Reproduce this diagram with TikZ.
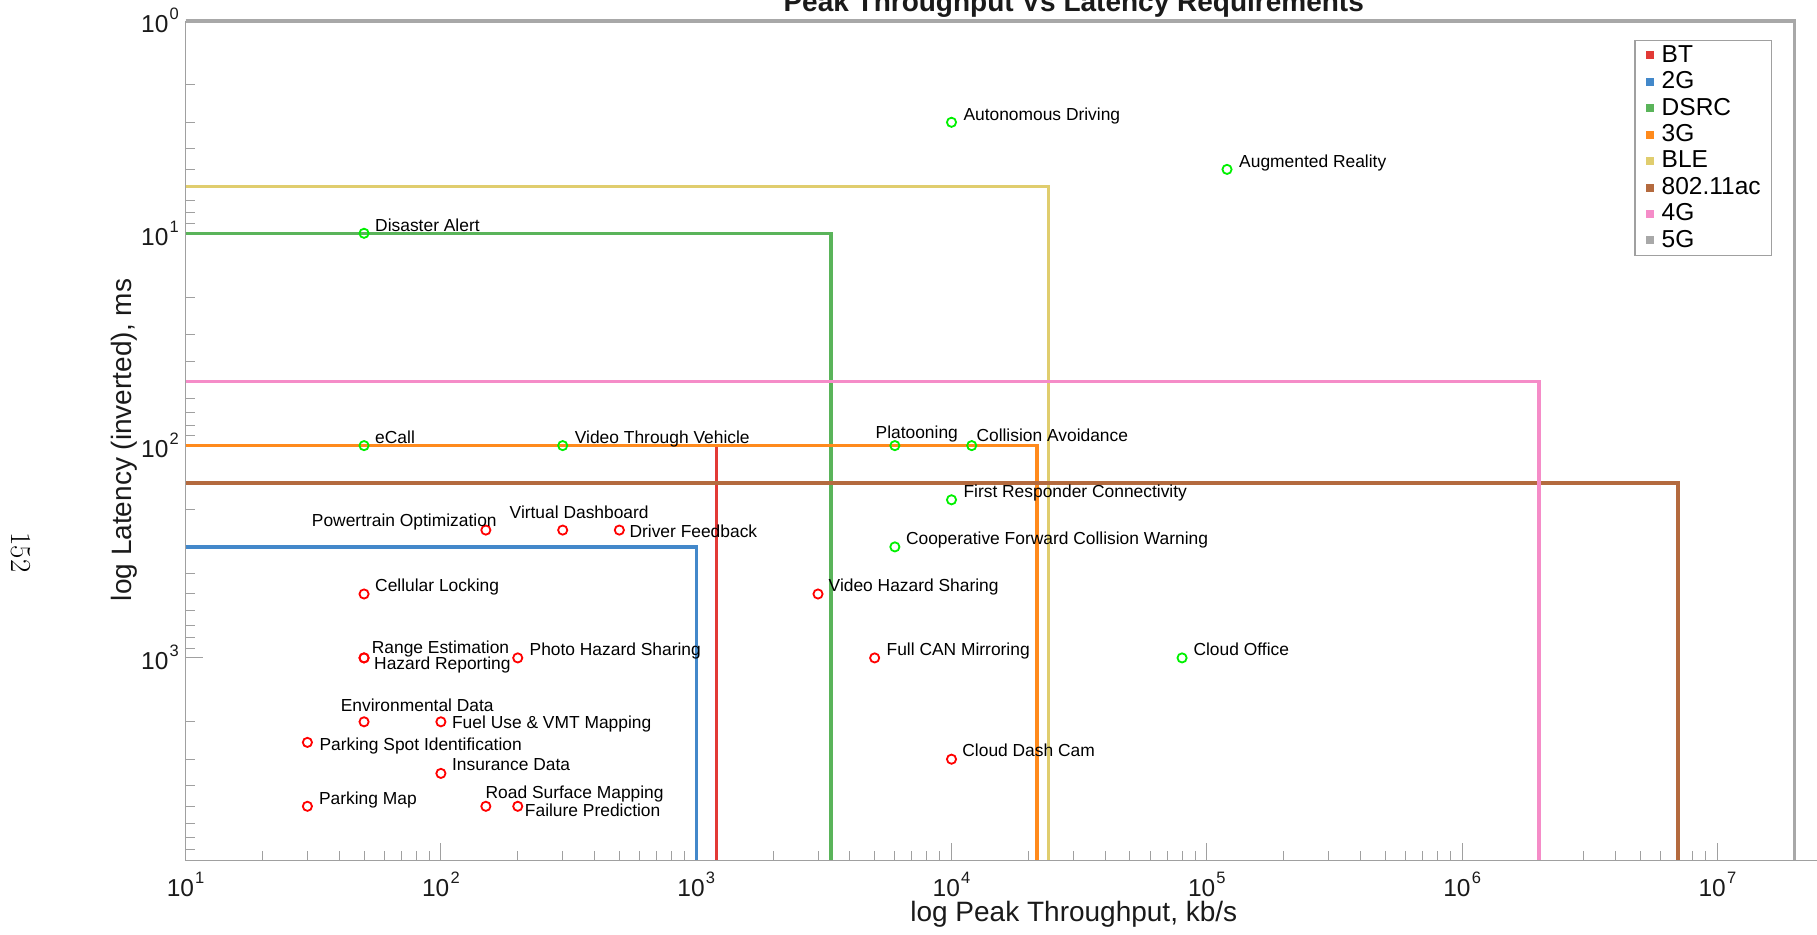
\documentclass[tikz,border=0pt]{standalone}
\usepackage{fontspec}
\newfontfamily\sans{Liberation Sans}

\definecolor{axgray}{HTML}{A0A0A0}
\definecolor{txt}{HTML}{1A1A1A}
\definecolor{cBT}{HTML}{E23A36}
\definecolor{cTwoG}{HTML}{4388CA}
\definecolor{cDSRC}{HTML}{5AB45A}
\definecolor{cThreeG}{HTML}{FF8A1C}
\definecolor{cBLE}{HTML}{E0CD6E}
\definecolor{cAC}{HTML}{B46A3E}
\definecolor{cFourG}{HTML}{F58CC8}
\definecolor{cFiveG}{HTML}{A8A8A8}
\definecolor{ptred}{HTML}{FF0000}
\definecolor{ptgreen}{HTML}{00F000}

% power-of-ten tick label
\newcommand\tenpow[1]{10\hspace{1.2pt}\raisebox{13pt}{\fontsize{16.5}{16.5}\selectfont#1}}

\tikzset{
  axisline/.style={draw=axgray, line width=1.3pt},
  tickmark/.style={draw=axgray, line width=1pt},
  band/.style={line width=3.3pt, line join=miter},
  redpt/.style={circle, draw=ptred, line width=1.8pt, minimum size=9.2pt, inner sep=0pt},
  greenpt/.style={circle, draw=ptgreen, line width=1.8pt, minimum size=9.2pt, inner sep=0pt},
  lbl/.style={font=\sans\fontsize{17.4}{17.4}\selectfont, text=black, inner sep=0pt,
              text height=12.4pt, text depth=0pt, anchor=west},
  ticklbl/.style={font=\sans\fontsize{24.5}{24.5}\selectfont, text=txt, inner sep=0pt},
  axlbl/.style={font=\sans\fontsize{28}{28}\selectfont, text=txt, inner sep=0pt},
  legtxt/.style={font=\sans\fontsize{24.5}{24.5}\selectfont, text=black, inner sep=0pt, anchor=base west},
  declare function={
    px(\m,\e)=185.6+(ln(\m)*0.4342945+\e-1)*255.3;
    py(\m,\e)=21+(ln(\m)*0.4342945+\e)*212.3;
  }
}

\begin{document}
\begin{tikzpicture}[x=1pt, y=-1pt]
\useasboundingbox (0,0) rectangle (1817,934);

% axes corner and limits
\coordinate (O) at ({px(1,1)},{py(9,3)});
\coordinate (TL) at ({px(1,1)},{py(1,0)});

% title (partly above the page edge)
\node[axlbl, font=\sans\bfseries\fontsize{28}{28}\selectfont, anchor=base] (title) at (1073.7,11.5)
  {Peak Throughput Vs Latency Requirements};

% minor and major ticks
\foreach \e in {0,...,3}{
  \foreach \m in {2,...,9}{
    \draw[tickmark] ({px(1,1)},{py(\m,\e)}) -- ++(9,0);
  }
  \draw[tickmark] ({px(1,1)},{py(1,\e)}) -- ++(17.5,0);
}
\foreach \e in {1,...,6}{
  \foreach \m in {2,...,9}{
    \draw[tickmark] ({px(\m,\e)},{py(9,3)}) -- ++(0,-9);
  }
}
\foreach \e in {2,...,7}{
  \draw[tickmark] ({px(1,\e)},{py(9,3)}) -- ++(0,-17.5);
}

% axis lines
\draw[axisline] (TL) -- (O) -- (1817,{py(9,3)});

% tick labels
\foreach \e in {1,...,7}{
  \node[ticklbl, anchor=base] (xt\e) at ({px(1,\e)},896) {\tenpow{\e}};
}
\foreach \e in {0,...,3}{
  \node[ticklbl, anchor=base east] (yt\e) at (179,{py(1,\e)+12}) {\tenpow{\e}};
}

% axis titles
\node[axlbl, anchor=base] (xlab) at (1073.8,921) {log Peak Throughput, kb/s};
\node[axlbl, anchor=base, rotate=90] (ylab) at (131,440) {log Latency (inverted), ms};

% page number
\node[font=\rmfamily\fontsize{29}{29}\selectfont, inner sep=0pt, anchor=base, rotate=-90] (pageno) at (11,552.5) {152};

% technology envelopes: latency bound, then throughput bound
\draw[band, draw=cBT]     ({px(1,1)},{py(1,2)})   -| ({px(1.2,3)},{py(9,3)});
\draw[band, draw=cTwoG]   ({px(1,1)},{py(3,2)})   -| ({px(1,3)},{py(9,3)});
\draw[band, draw=cDSRC]   ({px(1,1)},{py(1,1)})   -| ({px(3.375,3)},{py(9,3)});
\draw[band, draw=cThreeG] ({px(1,1)},{py(1,2)})   -| ({px(2.16,4)},{py(9,3)});
\draw[band, draw=cBLE]    ({px(1,1)},{py(6,0)})   -| ({px(2.4,4)},{py(9,3)});
\draw[band, draw=cAC]     ({px(1,1)},{py(1.5,2)}) -| ({px(7,6)},{py(9,3)});
\draw[band, draw=cFourG]  ({px(1,1)},{py(5,1)})   -| ({px(2,6)},{py(9,3)});
\draw[band, draw=cFiveG]  ({px(1,1)},{py(1,0)})   -| ({px(2,7)},{py(9,3)});

% applications supported today
\node[greenpt] (ad)  at ({px(1,4)},{py(3,0)}) {};
\node[greenpt] (ar)  at ({px(1.2,5)},{py(5,0)}) {};
\node[greenpt] (da)  at ({px(5,1)},{py(1,1)}) {};
\node[greenpt] (ec)  at ({px(5,1)},{py(1,2)}) {};
\node[greenpt] (vtv) at ({px(3,2)},{py(1,2)}) {};
\node[greenpt] (pl)  at ({px(6,3)},{py(1,2)}) {};
\node[greenpt] (ca)  at ({px(1.2,4)},{py(1,2)}) {};
\node[greenpt] (frc) at ({px(1,4)},{py(1.8,2)}) {};
\node[greenpt] (cfcw) at ({px(6,3)},{py(3,2)}) {};
\node[greenpt] (co)  at ({px(8,4)},{py(1,3)}) {};

\node[lbl] at ([shift={(11.8,-8)}]ad.center) {Autonomous Driving};
\node[lbl] at ([shift={(12,-7.6)}]ar.center) {Augmented Reality};
\node[lbl] at ([shift={(11,-8.3)}]da.center) {Disaster Alert};
\node[lbl] at ([shift={(11,-8.7)}]ec.center) {eCall};
\node[lbl] at ([shift={(12,-8.7)}]vtv.center) {Video Through Vehicle};
\node[lbl] at ([shift={(-19.4,-13.7)}]pl.center) {Platooning};
\node[lbl] at ([shift={(4.6,-10.3)}]ca.center) {Collision Avoidance};
\node[lbl] at ([shift={(11.8,-8)}]frc.center) {First Responder Connectivity};
\node[lbl] at ([shift={(11,-8.7)}]cfcw.center) {Cooperative Forward Collision Warning};
\node[lbl] at ([shift={(11.3,-8.3)}]co.center) {Cloud Office};

% applications needing more
\node[redpt] (po)  at ({px(1.5,2)},{py(2.5,2)}) {};
\node[redpt] (vd)  at ({px(3,2)},{py(2.5,2)}) {};
\node[redpt] (dfb) at ({px(5,2)},{py(2.5,2)}) {};
\node[redpt] (cl)  at ({px(5,1)},{py(5,2)}) {};
\node[redpt] (vhs) at ({px(3,3)},{py(5,2)}) {};
\node[redpt] (re)  at ({px(5,1)},{py(1,3)}) {};
\node[redpt] (hr)  at ({px(5,1)},{py(1,3)}) {};
\node[redpt] (phs) at ({px(2,2)},{py(1,3)}) {};
\node[redpt] (fcm) at ({px(5,3)},{py(1,3)}) {};
\node[redpt] (env) at ({px(5,1)},{py(2,3)}) {};
\node[redpt] (fu)  at ({px(1,2)},{py(2,3)}) {};
\node[redpt] (psi) at ({px(3,1)},{py(2.5,3)}) {};
\node[redpt] (ins) at ({px(1,2)},{py(3.5,3)}) {};
\node[redpt] (pm)  at ({px(3,1)},{py(5,3)}) {};
\node[redpt] (rsm) at ({px(1.5,2)},{py(5,3)}) {};
\node[redpt] (fp)  at ({px(2,2)},{py(5,3)}) {};
\node[redpt] (cdc) at ({px(1,4)},{py(3,3)}) {};

\node[lbl, anchor=east] at ([shift={(11,-10)}]po.center) {Powertrain Optimization};
\node[lbl] at ([shift={(-53.2,-17.4)}]vd.center) {Virtual Dashboard};
\node[lbl] at ([shift={(10,1.7)}]dfb.center) {Driver Feedback};
\node[lbl] at ([shift={(11,-8.3)}]cl.center) {Cellular Locking};
\node[lbl] at ([shift={(10.5,-8.3)}]vhs.center) {Video Hazard Sharing};
\node[lbl] at ([shift={(7.6,-11)}]re.center) {Range Estimation};
\node[lbl] at ([shift={(10,5)}]hr.center) {Hazard Reporting};
\node[lbl] at ([shift={(11.7,-8.3)}]phs.center) {Photo Hazard Sharing};
\node[lbl] at ([shift={(11.8,-8.3)}]fcm.center) {Full CAN Mirroring};
\node[lbl] at ([shift={(-23.4,-16.3)}]env.center) {Environmental Data};
\node[lbl] at ([shift={(11,0)}]fu.center) {Fuel Use \& VMT Mapping};
\node[lbl] at ([shift={(12,1.7)}]psi.center) {Parking Spot Identification};
\node[lbl] at ([shift={(11,-8.7)}]ins.center) {Insurance Data};
\node[lbl] at ([shift={(11.5,-8.3)}]pm.center) {Parking Map};
\node[lbl] at ([shift={(-0.4,-14)}]rsm.center) {Road Surface Mapping};
\node[lbl] at ([shift={(7,4.3)}]fp.center) {Failure Prediction};
\node[lbl] at ([shift={(10.7,-9)}]cdc.center) {Cloud Dash Cam};

% legend
\draw[draw=axgray, line width=1.2pt, fill=white] (1635,40.7) rectangle (1771.7,255.3);
\foreach \c/\t [count=\i from 0] in {cBT/BT, cTwoG/2G, cDSRC/DSRC, cThreeG/3G, cBLE/BLE, cAC/802.11ac, cFourG/4G, cFiveG/5G}{
  \fill[\c] (1645.7,{51.5+26.4*\i}) rectangle ++(8,8);
  \node[legtxt] (leg\i) at (1661.5,{62.3+26.4*\i}) {\t};
}
\end{tikzpicture}
\end{document}
